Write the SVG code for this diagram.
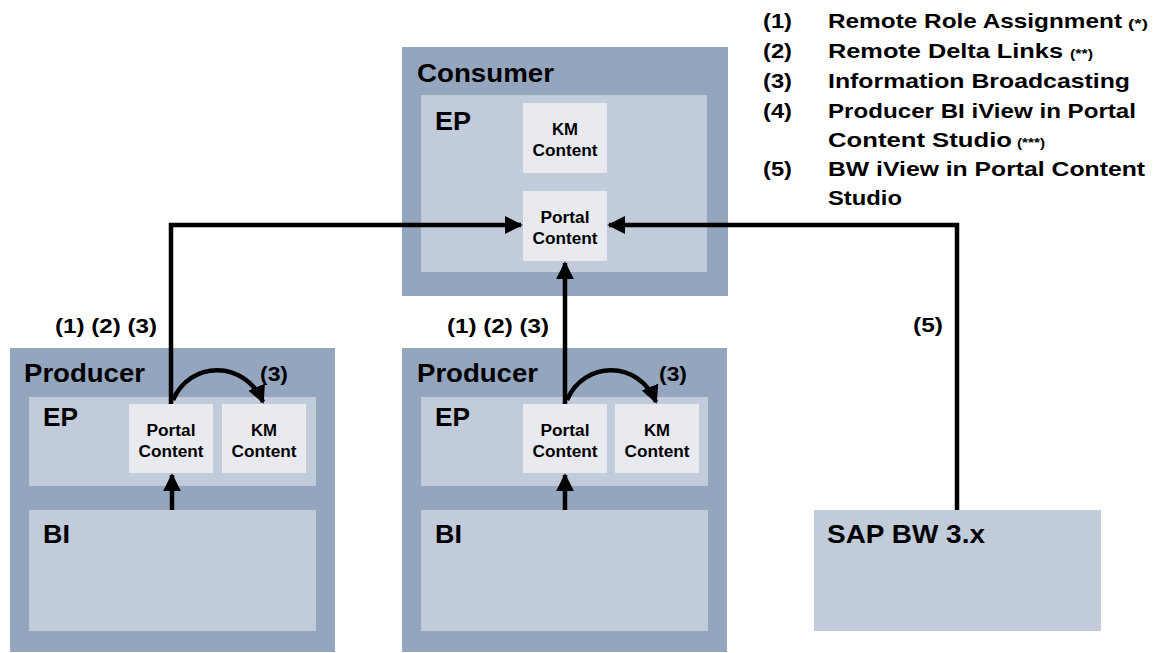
<svg xmlns="http://www.w3.org/2000/svg" width="1161" height="653" viewBox="0 0 1161 653">
<defs>
<marker id="ah" viewBox="0 0 10 10" refX="9" refY="5" markerWidth="4" markerHeight="4" orient="auto" markerUnits="strokeWidth">
<path d="M0,0 L10,5 L0,10 Z" fill="#000"/>
</marker>
<style>
text{font-family:"Liberation Sans",Arial,sans-serif;font-weight:bold;fill:#000}
.outer{fill:#94A6BE}
.inner{fill:#C1CBDA}
.cont{fill:#E8EAF0}
.big{font-size:25px}
.sm{font-size:16px;text-anchor:middle}
.lbl{font-size:20px}
.leg{font-size:21px}
.tiny{font-size:12px}
.con{fill:none;stroke:#000;stroke-width:4.5;marker-end:url(#ah)}
</style>
</defs>
<rect width="1161" height="653" fill="#fff"/>

<g id="consumer">
<rect class="outer" x="402" y="47" width="326" height="249"/>
<text class="big" x="417" y="82" textLength="137" lengthAdjust="spacingAndGlyphs">Consumer</text>
<rect class="inner" x="421" y="95" width="286" height="177"/>
<text class="big" x="435" y="130" textLength="36" lengthAdjust="spacingAndGlyphs">EP</text>
</g>
<g id="consumer-km">
<rect class="cont" x="523" y="103" width="84" height="70"/>
<text class="sm" x="565" y="135" textLength="26" lengthAdjust="spacingAndGlyphs">KM</text>
<text class="sm" x="565" y="156" textLength="65" lengthAdjust="spacingAndGlyphs">Content</text>
</g>
<g id="consumer-portal">
<rect class="cont" x="523" y="191" width="84" height="70"/>
<text class="sm" x="565" y="223" textLength="49" lengthAdjust="spacingAndGlyphs">Portal</text>
<text class="sm" x="565" y="244" textLength="65" lengthAdjust="spacingAndGlyphs">Content</text>
</g>

<g id="producer1">
<rect class="outer" x="10" y="348" width="325" height="304"/>
<text class="big" x="24" y="382" textLength="121" lengthAdjust="spacingAndGlyphs">Producer</text>
<rect class="inner" x="29" y="397" width="287" height="89"/>
<text class="big" x="43" y="426" textLength="35" lengthAdjust="spacingAndGlyphs">EP</text>
</g>
<g id="producer1-portal">
<rect class="cont" x="129" y="404" width="84" height="69"/>
<text class="sm" x="171" y="436" textLength="49" lengthAdjust="spacingAndGlyphs">Portal</text>
<text class="sm" x="171" y="457" textLength="65" lengthAdjust="spacingAndGlyphs">Content</text>
</g>
<g id="producer1-km">
<rect class="cont" x="222" y="404" width="84" height="69"/>
<text class="sm" x="264" y="436" textLength="26" lengthAdjust="spacingAndGlyphs">KM</text>
<text class="sm" x="264" y="457" textLength="65" lengthAdjust="spacingAndGlyphs">Content</text>
</g>
<g id="producer1-bi">
<rect class="inner" x="29" y="510" width="287" height="121"/>
<text class="big" x="43" y="543" textLength="27" lengthAdjust="spacingAndGlyphs">BI</text>
</g>

<g id="producer2">
<rect class="outer" x="402" y="348" width="325" height="304"/>
<text class="big" x="417" y="382" textLength="121" lengthAdjust="spacingAndGlyphs">Producer</text>
<rect class="inner" x="421" y="397" width="287" height="89"/>
<text class="big" x="435" y="426" textLength="35" lengthAdjust="spacingAndGlyphs">EP</text>
</g>
<g id="producer2-portal">
<rect class="cont" x="523" y="404" width="84" height="69"/>
<text class="sm" x="565" y="436" textLength="49" lengthAdjust="spacingAndGlyphs">Portal</text>
<text class="sm" x="565" y="457" textLength="65" lengthAdjust="spacingAndGlyphs">Content</text>
</g>
<g id="producer2-km">
<rect class="cont" x="615" y="404" width="84" height="69"/>
<text class="sm" x="657" y="436" textLength="26" lengthAdjust="spacingAndGlyphs">KM</text>
<text class="sm" x="657" y="457" textLength="65" lengthAdjust="spacingAndGlyphs">Content</text>
</g>
<g id="producer2-bi">
<rect class="inner" x="421" y="510" width="287" height="121"/>
<text class="big" x="435" y="543" textLength="27" lengthAdjust="spacingAndGlyphs">BI</text>
</g>

<g id="sapbw">
<rect class="inner" x="814" y="510" width="287" height="121"/>
<text class="big" x="827" y="543" textLength="158" lengthAdjust="spacingAndGlyphs">SAP BW 3.x</text>
</g>

<g id="connectors">
<path class="con" d="M171,404 V225 H521"/>
<path class="con" d="M957,510 V225 H609"/>
<path class="con" d="M565,404 V263"/>
<path class="con" d="M172,510 V475"/>
<path class="con" d="M565,510 V475"/>
<path class="con" d="M173,400 C190,360 245,360 263,402"/>
<path class="con" d="M567,400 C584,360 639,360 656,402"/>
</g>

<g id="labels">
<text class="lbl" x="55" y="333" textLength="102" lengthAdjust="spacingAndGlyphs">(1) (2) (3)</text>
<text class="lbl" x="447" y="333" textLength="102" lengthAdjust="spacingAndGlyphs">(1) (2) (3)</text>
<text class="lbl" x="913" y="332" textLength="30" lengthAdjust="spacingAndGlyphs">(5)</text>
<text class="lbl" x="260" y="381" textLength="28" lengthAdjust="spacingAndGlyphs">(3)</text>
<text class="lbl" x="659" y="381" textLength="28" lengthAdjust="spacingAndGlyphs">(3)</text>
</g>

<g id="legend">
<text class="leg" x="763" y="28" textLength="29" lengthAdjust="spacingAndGlyphs">(1)</text>
<text class="leg" x="828" y="28" textLength="294" lengthAdjust="spacingAndGlyphs">Remote Role Assignment</text>
<text class="tiny" x="1128" y="28" textLength="20" lengthAdjust="spacingAndGlyphs">(*)</text>
<text class="leg" x="763" y="58" textLength="29" lengthAdjust="spacingAndGlyphs">(2)</text>
<text class="leg" x="828" y="58" textLength="235" lengthAdjust="spacingAndGlyphs">Remote Delta Links</text>
<text class="tiny" x="1070" y="58" textLength="23" lengthAdjust="spacingAndGlyphs">(**)</text>
<text class="leg" x="763" y="88" textLength="29" lengthAdjust="spacingAndGlyphs">(3)</text>
<text class="leg" x="828" y="88" textLength="302" lengthAdjust="spacingAndGlyphs">Information Broadcasting</text>
<text class="leg" x="763" y="118" textLength="29" lengthAdjust="spacingAndGlyphs">(4)</text>
<text class="leg" x="828" y="118" textLength="308" lengthAdjust="spacingAndGlyphs">Producer BI iView in Portal</text>
<text class="leg" x="828" y="147" textLength="184" lengthAdjust="spacingAndGlyphs">Content Studio</text>
<text class="tiny" x="1017" y="147" textLength="28" lengthAdjust="spacingAndGlyphs">(***)</text>
<text class="leg" x="763" y="176" textLength="29" lengthAdjust="spacingAndGlyphs">(5)</text>
<text class="leg" x="828" y="176" textLength="317" lengthAdjust="spacingAndGlyphs">BW iView in Portal Content</text>
<text class="leg" x="828" y="205" textLength="74" lengthAdjust="spacingAndGlyphs">Studio</text>
</g>
</svg>
